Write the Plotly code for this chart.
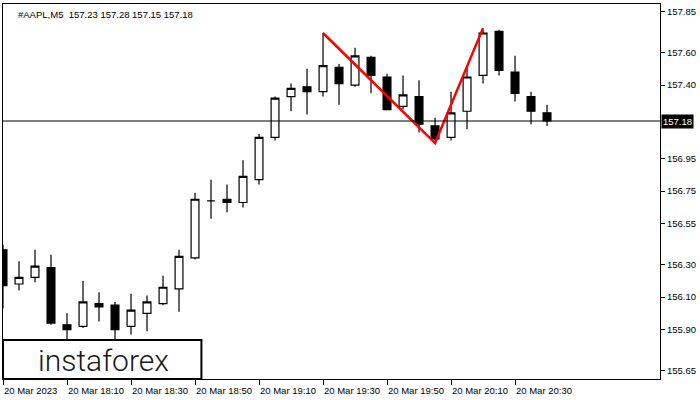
import plotly.graph_objects as go
import pandas as pd

# ---- data -------------------------------------------------------------
times = pd.date_range("2023-03-20 17:50", periods=35, freq="5min")

opens = [156.39, 156.18, 156.22, 156.28, 155.93, 155.92, 156.06, 156.05, 155.92, 156.00,
         156.06, 156.15, 156.34, 156.69, 156.70, 156.68, 156.82, 157.08, 157.33, 157.39,
         157.36, 157.51, 157.40, 157.57, 157.45, 157.27, 157.33, 157.15, 157.08, 157.24,
         157.46, 157.73, 157.48, 157.33, 157.23]
highs = [156.42, 156.32, 156.39, 156.36, 156.00, 156.20, 156.13, 156.07, 156.12, 156.11,
         156.23, 156.39, 156.74, 156.82, 156.79, 156.94, 157.10, 157.33, 157.41, 157.50,
         157.72, 157.53, 157.63, 157.58, 157.47, 157.46, 157.43, 157.20, 157.36, 157.52,
         157.74, 157.74, 157.58, 157.36, 157.28]
lows = [156.03, 156.14, 156.19, 155.93, 155.82, 155.91, 155.95, 155.83, 155.87, 155.89,
        156.05, 156.01, 156.33, 156.58, 156.62, 156.65, 156.79, 157.06, 157.24, 157.22,
        157.33, 157.28, 157.39, 157.35, 157.25, 157.25, 157.11, 157.06, 157.06, 157.13,
        157.41, 157.46, 157.30, 157.16, 157.15]
closes = [156.17, 156.22, 156.29, 155.94, 155.90, 156.07, 156.04, 155.90, 156.02, 156.07,
          156.16, 156.35, 156.70, 156.69, 156.68, 156.84, 157.08, 157.32, 157.38, 157.36,
          157.52, 157.41, 157.58, 157.46, 157.25, 157.34, 157.16, 157.07, 157.23, 157.45,
          157.72, 157.49, 157.35, 157.24, 157.18]

# double-top pattern line (bar index, price)
pattern_bars = [20, 27, 30]
pattern_prices = [157.72, 157.045, 157.75]

current_price = 157.18

y_tick_vals = [157.85, 157.60, 157.40, 156.95, 156.75, 156.55, 156.30, 156.10, 155.90, 155.65]
y_tick_text = ["157.85", "157.60", "157.40", "156.95", "156.75", "156.55",
               "156.30", "156.10", "155.90", "155.65"]

x_tick_bars = [0, 4, 8, 12, 16, 20, 24, 28, 32]
x_tick_labels = ["20 Mar 2023", "20 Mar 18:10", "20 Mar 18:30", "20 Mar 18:50",
                 "20 Mar 19:10", "20 Mar 19:30", "20 Mar 19:50", "20 Mar 20:10",
                 "20 Mar 20:30"]

title_text = "#AAPL,M5  157.23 157.28 157.15 157.18"

# ---- figure -----------------------------------------------------------
FONT = "Liberation Sans"
bar_idx = list(range(len(times)))

fig = go.Figure()
fig.add_trace(go.Candlestick(
    x=bar_idx, open=opens, high=highs, low=lows, close=closes,
    increasing=dict(line=dict(color="black", width=1.2), fillcolor="white"),
    decreasing=dict(line=dict(color="black", width=1.2), fillcolor="black"),
    whiskerwidth=0, showlegend=False, hoverinfo="skip",
))
fig.add_trace(go.Scatter(
    x=pattern_bars, y=pattern_prices, mode="lines",
    line=dict(color="#ff0000", width=2.5), showlegend=False, hoverinfo="skip",
))

fig.add_shape(type="line", xref="paper", x0=0, x1=1, yref="y",
              y0=current_price, y1=current_price, line=dict(color="black", width=1))

# logo box
fig.add_shape(type="rect", xref="paper", yref="paper", x0=0.0, x1=0.302, y0=0.0, y1=0.104,
              line=dict(color="black", width=2), fillcolor="white", layer="above")
fig.add_annotation(xref="paper", yref="paper", x=0.153, y=0.05, text="instaforex",
                   showarrow=False, xanchor="center", yanchor="middle",
                   font=dict(family="Roboto", size=30, color="#1a1a1a", weight=300))

# title
fig.add_annotation(xref="paper", yref="paper", x=0, y=1, xshift=13, yshift=-3,
                   text=title_text, showarrow=False, xanchor="left", yanchor="top",
                   font=dict(family=FONT, size=9.5, color="black"))

# x tick labels (left aligned to tick)
for b, lab in zip(x_tick_bars, x_tick_labels):
    fig.add_annotation(x=b, xref="x", yref="paper", y=0, yshift=-4, xshift=-1,
                       text=lab, showarrow=False, xanchor="left", yanchor="top",
                       font=dict(family=FONT, size=9.5, color="black"))

# current price label
fig.add_annotation(xref="paper", x=1, xshift=1, yref="y", y=current_price,
                   text=f"{current_price:.2f}", showarrow=False, xanchor="left",
                   yanchor="middle", bgcolor="black", borderpad=1,
                   font=dict(family=FONT, size=9.5, color="white"))

fig.update_layout(
    width=700, height=400,
    margin=dict(l=3, r=40, t=4, b=21),
    paper_bgcolor="white", plot_bgcolor="white",
    font=dict(family=FONT, size=9.5, color="black"),
    showlegend=False,
    xaxis=dict(range=[0, 41.06], rangeslider=dict(visible=False),
               showgrid=False, zeroline=False,
               showline=True, mirror=True, linecolor="black", linewidth=1,
               tickvals=x_tick_bars, ticks="outside", ticklen=5, tickcolor="black",
               showticklabels=False),
    yaxis=dict(range=[155.597, 157.898], side="right",
               showgrid=False, zeroline=False,
               showline=True, mirror=True, linecolor="black", linewidth=1,
               tickvals=y_tick_vals, ticktext=y_tick_text,
               ticks="outside", ticklen=4, tickcolor="black",
               tickfont=dict(family=FONT, size=9.5, color="black")),
)

fig.write_html(
    "out.html",
    config={"displayModeBar": False},
    post_script="document.body.style.margin='0';document.body.style.padding='0';",
)
